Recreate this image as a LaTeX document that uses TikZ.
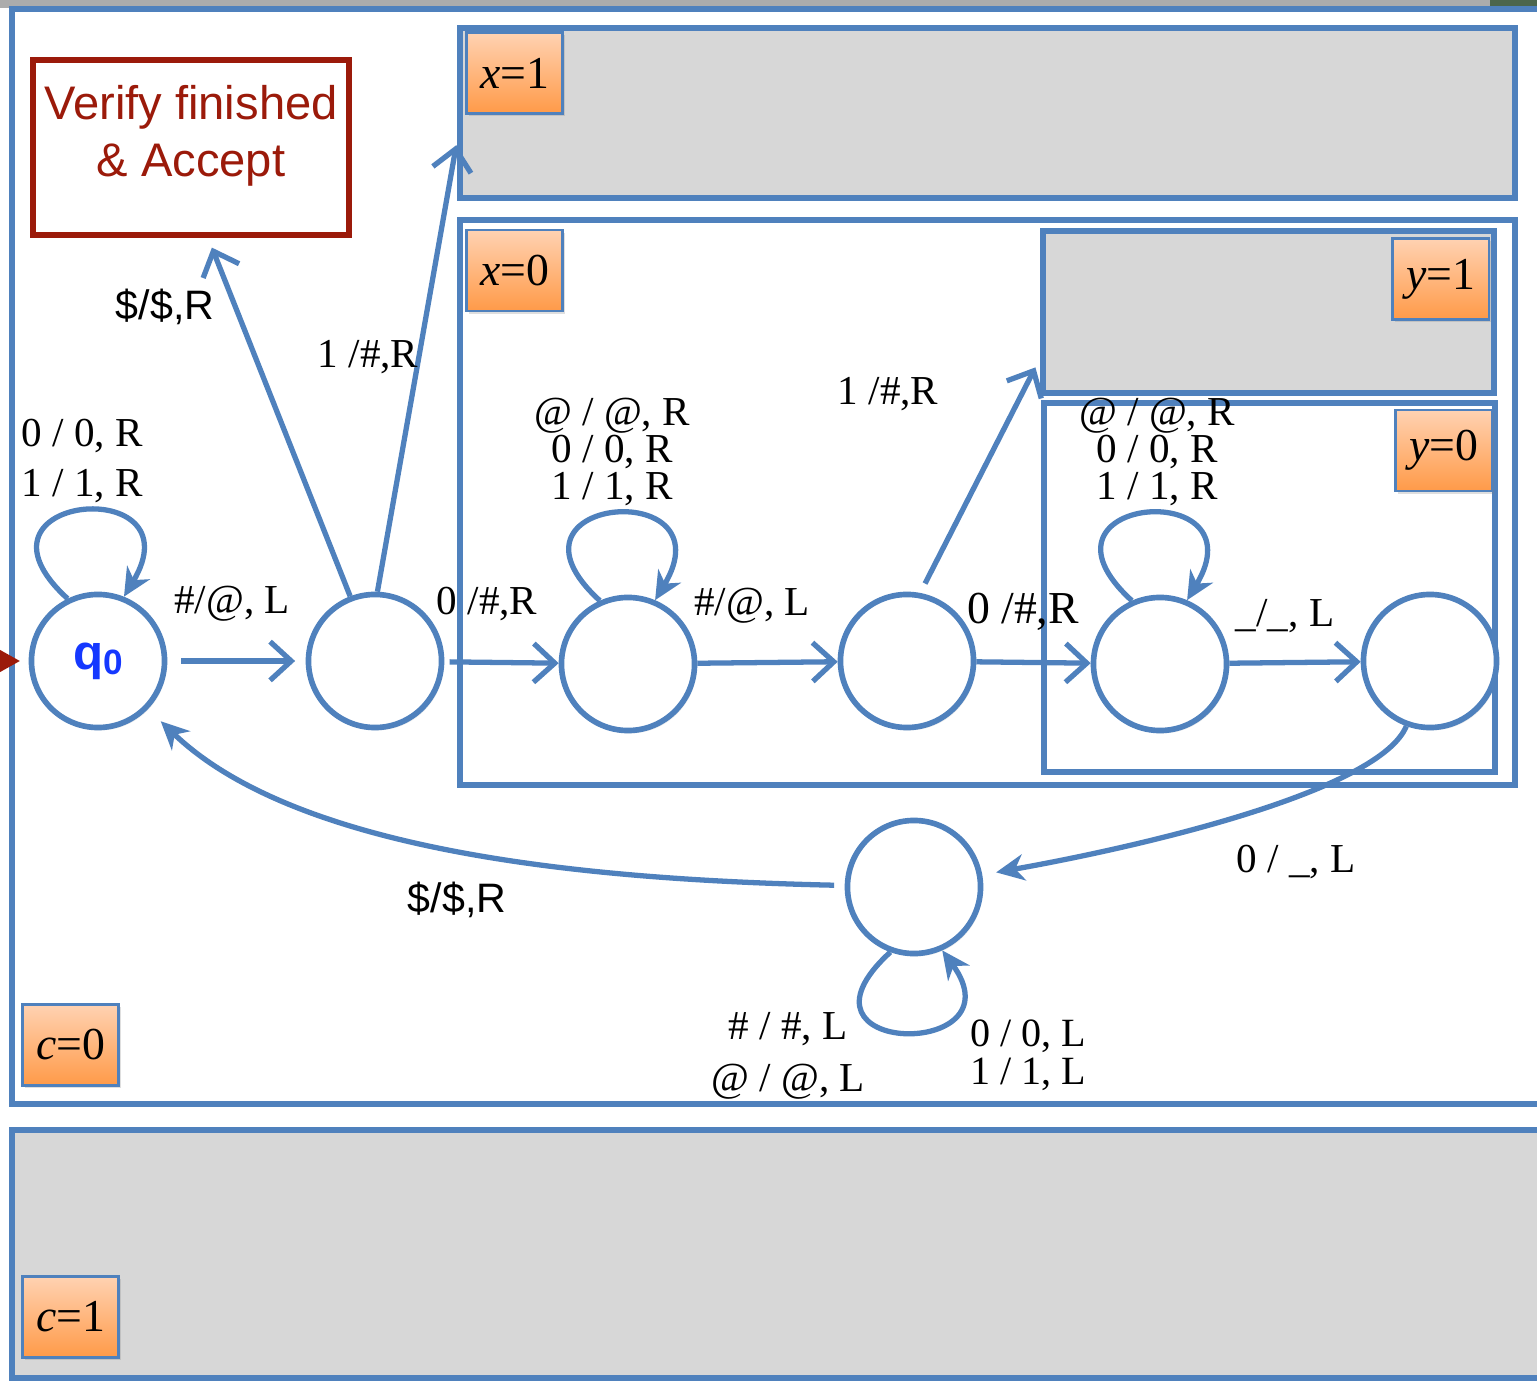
\documentclass[tikz,border=0pt]{standalone}
\usepackage{fontspec}
\setmainfont{Liberation Serif}
\setsansfont{Liberation Sans}
\usetikzlibrary{arrows.meta,positioning,fit,shadows}
\definecolor{frameblue}{HTML}{4F81BD}
\definecolor{tagtop}{HTML}{FFD2B2}
\definecolor{tagbot}{HTML}{FF9A48}
\definecolor{regiongray}{HTML}{D7D7D7}
\definecolor{acceptred}{HTML}{9B1A0A}
\definecolor{qblue}{HTML}{1538FF}
\newcommand{\lbl}{\fontsize{11.7}{14.2}\selectfont}
\newcommand{\tightlbl}{\fontsize{11.7}{10.6}\selectfont}

\begin{document}
\begin{tikzpicture}[x=0.01cm, y=-0.01cm,
    frame/.style={draw=frameblue, line width=1.6pt, inner sep=0pt, fill=white, drop shadow={opacity=0.15, shadow xshift=0.6pt, shadow yshift=-0.6pt}},
    region/.style={frame, fill=regiongray},
    tag/.style={draw=frameblue, line width=0.6pt, top color=tagtop, bottom color=tagbot, minimum width=0.96cm, minimum height=0.81cm, inner sep=0pt, font=\fontsize{13}{15}\selectfont, drop shadow={opacity=0.25, shadow xshift=0.6pt, shadow yshift=-0.8pt}},
    state/.style={circle, draw=frameblue, fill=white, line width=1.6pt, minimum size=1.33cm, inner sep=0pt, drop shadow={opacity=0.15, shadow xshift=0.6pt, shadow yshift=-0.8pt}},
    arr/.style={draw=frameblue, line width=1.5pt, -{Straight Barb[length=6pt,width=11pt]}},
    carr/.style={draw=frameblue, line width=1.5pt, -{Stealth[length=8pt,width=7.5pt,inset=2.5pt]}},
    lab/.style={font=\lbl, inner sep=0pt, align=center},
    tightlab/.style={font=\tightlbl, inner sep=0pt, align=center},
    slab/.style={font=\sffamily\lbl, inner sep=0pt}
]
    \useasboundingbox (0,0) rectangle (1537,1383);

    % slide edge
    \fill[gray!65] (0,0) rectangle (1537,8);
    \fill[black!75!green!40!gray] (1490,0) rectangle (1537,8);

    % regions
    \node[frame, fit={(12,9) (1600,1104)}] (czero) {};
    \node[region, fit={(12,1130) (1600,1378)}] (cone) {};
    \node[region, fit={(460,28) (1515,198)}] (xone) {};
    \node[frame, fit={(460,220) (1515,785)}] (xzero) {};
    \node[region, fit={(1043,231) (1494,393)}] (yone) {};
    \node[frame, fit={(1044,403) (1495,772)}] (yzero) {};

    % region tags
    \node[tag] (tcone) at (70.5,1317) {\textit{c}=1};
    \node[tag] (tczero) at (70.5,1045) {\textit{c}=0};
    \node[tag] (txone) at (514.5,73) {\textit{x}=1};
    \node[tag] (txzero) at (514.5,270.5) {\textit{x}=0};
    \node[tag] (tyone) at (1440.5,279) {\textit{y}=1};
    \node[tag] (tyzero) at (1443.5,450.5) {\textit{y}=0};

    % accept box
    \node[draw=acceptred, line width=1.6pt, fill=white, inner sep=0pt, fit={(33,60) (349,235)}, drop shadow={opacity=0.2, shadow xshift=0.6pt, shadow yshift=-0.8pt}] (acc) {};
    \node[font=\sffamily\fontsize{13.4}{16.2}\selectfont, text=acceptred, align=center, inner sep=0pt] (acctext) at (191,136) {Verify finished\\\& Accept};

    % states
    \node[state] (q0) at (98,661) {\sffamily\bfseries\fontsize{14}{14}\selectfont\color{qblue}q\raisebox{-1.5pt}{\fontsize{10}{10}\selectfont 0}};
    \node[state] (s1) at (375,661) {};
    \node[state] (s2) at (628,664) {};
    \node[state] (s3) at (907,661) {};
    \node[state] (s4) at (1160,664) {};
    \node[state] (s5) at (1430,661) {};
    \node[state] (s6) at (914,887) {};

    % start
    \coordinate (start) at (0,661);
    \draw[line width=1.5pt, draw=acceptred, -{Stealth[length=9pt,width=10pt,inset=3.5pt]}, shorten >=2.5pt] (start) -- (q0);

    % transitions
    \draw[arr, shorten <=4pt, shorten >=3pt] (q0) -- (s1);
    \draw[arr, shorten <=1.5pt] (s1) -- (s2);
    \draw[arr] (s2) -- (s3);
    \draw[arr] (s3) -- (s4);
    \draw[arr] (s4) -- (s5);
    \draw[arr, shorten >=3pt] (s1.111) -- ([shift={(17,0)}]acc.south);
    \draw[arr, shorten >=1.5pt] (s1.88) -- ([shift={(0,27)}]xone.west);
    \draw[arr, shorten <=3pt, shorten >=3pt] (s3.79) -- ([shift={(0,46)}]yone.west);
    \draw[carr, shorten >=4pt] (s5.250) .. controls (1380,790) and (1150,845) .. (s6);
    \draw[carr, shorten <=3pt, shorten >=5pt] (s6) .. controls (600,880) and (300,855) .. (q0);

    % loops
    \draw[carr] (q0.116) .. controls +(-115,-105) and +(75,-125) .. (q0.68);
    \draw[carr] (s2.114) .. controls +(-115,-105) and +(75,-125) .. (s2.67);
    \draw[carr] (s4.114) .. controls +(-115,-105) and +(75,-125) .. (s4.67);
    \draw[carr] (s6.250) .. controls +(-115,105) and +(80,110) .. (s6.294);

    % labels
    \node[lab] (lq0) at (82,461) {0 / 0, R\\1 / 1, R};
    \node[lab] (lq0s1) at (232,604) {\#/@, L};
    \node[slab] (ls1acc) at (165,307) {\$/\$,R};
    \node[lab] (ls1x) at (368,357) {1 /\#,R};
    \node[lab] (ls1s2) at (487,604) {0 /\#,R};
    \node[tightlab] (ls2) at (612,452) {@ / @, R\\0 / 0, R\\1 / 1, R};
    \node[lab] (ls2s3) at (752,606) {\#/@, L};
    \node[lab] (ls3y) at (888,394) {1 /\#,R};
    \node[lab, font=\fontsize{13}{15}\selectfont] (ls3s4) at (1023,612) {0 /\#,R};
    \node[tightlab] (ls4) at (1157,452) {@ / @, R\\0 / 0, R\\1 / 1, R};
    \node[lab] (ls4s5) at (1285,616) {\_/\_, L};
    \node[lab] (ls5s6) at (1296,862) {0 / \_, L};
    \node[slab] (ls6q0) at (457,900) {\$/\$,R};
    \node[lab, font=\fontsize{11.7}{14.8}\selectfont] (ls6a) at (788,1056) {\# / \#, L\\@ / @, L};
    \node[tightlab, font=\fontsize{11.4}{10.8}\selectfont] (ls6b) at (1028,1055) {0 / 0, L\\1 / 1, L};
\end{tikzpicture}
\end{document}
